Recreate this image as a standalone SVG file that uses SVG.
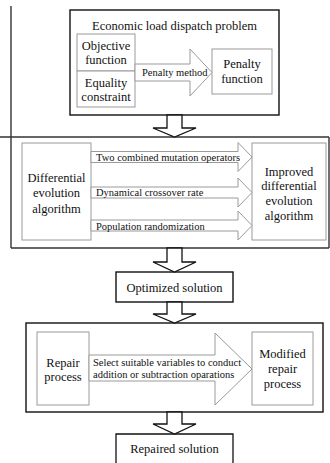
<svg xmlns="http://www.w3.org/2000/svg" width="330" height="463" viewBox="0 0 330 463" font-family="'Liberation Serif', 'Times New Roman', 'DejaVu Serif', serif">
<style>
  text { font-family: 'Liberation Serif', 'Times New Roman', 'DejaVu Serif', serif; fill: #111; }
  .t13 { font-size: 12.5px; text-anchor: middle; }
  .t10 { font-size: 10.5px; }
  .outer { fill: #fff; stroke: #111; stroke-width: 1.4; }
  .inner { fill: #fff; stroke: #9a9a9a; stroke-width: 1; }
  .garrow { fill: #fff; stroke: #9a9a9a; stroke-width: 1; }
  .harrow { fill: #fff; stroke: #111; stroke-width: 1.3; stroke-linejoin: miter; }
  .line { stroke: #333; stroke-width: 1.4; fill: none; }
</style>
<rect width="330" height="463" fill="#fff"/>

<g id="frame-lines">
  <line class="line" x1="11" y1="6" x2="11" y2="248"/>
  <line class="line" x1="0" y1="137" x2="329" y2="137"/>
  <line class="line" x1="11" y1="248" x2="329" y2="248"/>
  <line class="line" x1="329" y1="137" x2="329" y2="248"/>
</g>

<g id="eld-problem">
  <rect class="outer" x="70" y="10" width="209" height="105"/>
  <text class="t13" x="174.5" y="29.5">Economic load dispatch problem</text>
</g>

<g id="objective-function">
  <rect class="inner" x="77" y="34" width="58" height="37"/>
  <text class="t13" x="106" y="49.5">Objective</text>
  <text class="t13" x="106" y="64">function</text>
</g>

<g id="equality-constraint">
  <rect class="inner" x="77" y="71" width="58" height="36"/>
  <text class="t13" x="106" y="86.5">Equality</text>
  <text class="t13" x="106" y="101">constraint</text>
</g>

<g id="penalty-function">
  <rect class="inner" x="212" y="49" width="60" height="45"/>
  <text class="t13" x="242" y="67.5">Penalty</text>
  <text class="t13" x="242" y="83">function</text>
</g>

<g id="de-algorithm">
  <rect class="inner" x="22" y="143" width="69" height="97"/>
  <text class="t13" x="56.5" y="181.5">Differential</text>
  <text class="t13" x="56.5" y="197">evolution</text>
  <text class="t13" x="56.5" y="212.5">algorithm</text>
</g>

<g id="improved-de">
  <rect class="inner" x="252" y="143" width="74" height="97"/>
  <text class="t13" x="289" y="175.5">Improved</text>
  <text class="t13" x="289" y="190">differential</text>
  <text class="t13" x="289" y="205">evolution</text>
  <text class="t13" x="289" y="220">algorithm</text>
</g>

<g id="optimized-solution">
  <rect class="outer" x="116" y="272" width="117" height="30"/>
  <text class="t13" x="174.5" y="291.5">Optimized solution</text>
</g>

<g id="repair-section">
  <rect class="outer" x="26" y="323" width="297" height="89"/>
</g>

<g id="repair-process">
  <rect class="inner" x="37" y="332" width="52" height="73"/>
  <text class="t13" x="63" y="366.5">Repair</text>
  <text class="t13" x="63" y="381">process</text>
</g>

<g id="modified-repair">
  <rect class="inner" x="252" y="332" width="61" height="73"/>
  <text class="t13" x="282.5" y="357.5">Modified</text>
  <text class="t13" x="282.5" y="372.5">repair</text>
  <text class="t13" x="282.5" y="387.5">process</text>
</g>

<g id="repaired-solution">
  <polyline class="line" points="116,464 116,434 233,434 233,464" style="stroke:#111;stroke-width:1.3"/>
  <text class="t13" x="174.5" y="452.5">Repaired solution</text>
</g>

<g id="connectors">
  <polygon class="garrow" points="135,64 190,64 190,49 212,72.5 190,96 190,81 135,81"/>
  <text class="t10" x="142" y="76">Penalty method</text>

  <polygon class="garrow" points="91,151.5 238,151.5 238,142.5 252,157 238,171.5 238,162.5 91,162.5"/>
  <text class="t10" x="96" y="160.5">Two combined mutation operators</text>
  <polygon class="garrow" points="91,187 238,187 238,178 252,192.5 238,207 238,198 91,198"/>
  <text class="t10" x="96" y="196">Dynamical crossover rate</text>
  <polygon class="garrow" points="91,220 238,220 238,211 252,225.5 238,240 238,231 91,231"/>
  <text class="t10" x="96" y="229.5">Population randomization</text>

  <polygon class="garrow" points="89,355 215,355 215,333 252,369 215,405 215,381 89,381"/>
  <text class="t10" x="93" y="366">Select suitable variables to conduct</text>
  <text class="t10" x="93" y="378">addition or subtraction oparations</text>

  <polygon class="harrow" points="167,115 182,115 182,128 196,128 174.5,137 153,128 167,128"/>
  <polygon class="harrow" points="167,248 182,248 182,262 196,262 174.5,272 153,262 167,262"/>
  <polygon class="harrow" points="167,302 182,302 182,314 196,314 174.5,323 153,314 167,314"/>
  <polygon class="harrow" points="167,412 182,412 182,424 196,424 174.5,434 153,424 167,424"/>
</g>
</svg>
